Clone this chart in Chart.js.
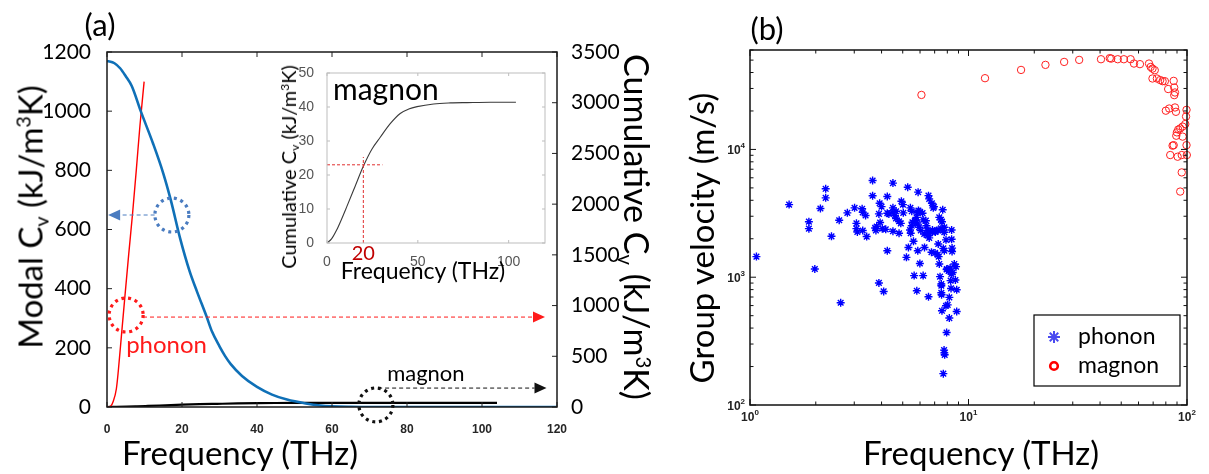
<!DOCTYPE html>
<html>
<head>
<meta charset="utf-8">
<script src="https://cdn.jsdelivr.net/npm/chart.js@4.4.1/dist/chart.umd.min.js"></script>
<style>
  body { margin: 0; background: #fff; }
  #wrap { position: relative; width: 1209px; height: 474px; overflow: hidden; font-family: Lato, sans-serif; }
  canvas { position: absolute; }
  .t { position: absolute; white-space: nowrap; color: #000; line-height: 1; z-index: 5; }
  .ctr { transform: translate(-50%, -50%); }
  .rot { transform: translate(-50%, -50%) rotate(-90deg); }
  .rotr { transform: translate(-50%, -50%) rotate(90deg); }
  sub { font-size: 60%; position: relative; top: 0.28em; vertical-align: baseline; }
  sup { font-size: 60%; position: relative; top: -0.6em; vertical-align: baseline; }
</style>
</head>
<body>
<div id="wrap">
  <canvas id="chartA" width="660" height="474" style="left:0;top:0"></canvas>
  <canvas id="chartInset" width="280" height="230" style="left:280px;top:55px"></canvas>
  <canvas id="chartB" width="549" height="474" style="left:660px;top:0"></canvas>

  <div class="t ctr" style="left:100px;top:24px;font-size:31px">(a)</div>
  <div class="t rot" style="left:30px;top:217px;font-size:33px">Modal C<sub>v</sub> (kJ/m<sup>3</sup>K)</div>
  <div class="t ctr" style="left:240px;top:452px;font-size:33px">Frequency (THz)</div>
  <div class="t rotr" style="left:637px;top:227px;font-size:34px">Cumulative C<sub>v</sub> (kJ/m<sup>3</sup>K)</div>

  <div class="t rot" style="left:288px;top:167px;font-size:20px">Cumulative C<sub>v</sub> (kJ/m<sup>3</sup>K)</div>
  <div class="t ctr" style="left:423px;top:270px;font-size:23px">Frequency (THz)</div>

  <div class="t ctr" style="left:767px;top:28px;font-size:31px">(b)</div>
  <div class="t rot" style="left:701px;top:238px;font-size:33px">Group velocity (m/s)</div>
  <div class="t ctr" style="left:981px;top:452px;font-size:33px">Frequency (THz)</div>
</div>

<script>
// ---- panel (a): modal Cv (left axis) ----
const modalFreq = [0, 2, 3.5, 5, 6.6, 9, 12.3, 15, 17, 19.5, 22, 24, 26.6, 28, 30, 31.5, 33, 36, 40, 44, 48, 53, 57, 60, 65, 70, 80, 100, 120];
const modalCv   = [1170, 1162, 1145, 1118, 1085, 1000, 890, 790, 700, 570, 460, 390, 304, 255, 205, 172, 145, 105, 68, 42, 25, 12, 5, 2.5, 0.8, 0, 0, 0, 0];

// ---- panel (a): cumulative Cv (right axis) ----
const phononCumFreq = [0, 1, 1.7, 2.5, 3, 3.9, 4.8, 5.8, 6.8, 7.8, 8.8, 9.9];
const phononCumCv   = [0, 10, 60, 180, 350, 726, 1100, 1510, 1900, 2330, 2780, 3208];

// magnon cumulative (also the inset curve)
const magnonCumFreq = [0, 2.5, 5.3, 8, 10.9, 15.5, 20.1, 24.7, 29.3, 34.8, 40.3, 45, 49.6, 58.7, 68, 77.2, 90, 104];
const magnonCumCv   = [0, 1.2, 3.8, 7, 10.7, 16.7, 22.7, 27.6, 31.1, 35.1, 38.1, 39.4, 40.1, 40.9, 41.2, 41.3, 41.4, 41.4];

const insetXTicks = [0, 50, 100];

// ---- panel (b): group velocity ----
const phononFreq = [1.07,1.51,1.86,1.86,1.98,2.10,2.22,2.22,2.36,2.56,2.60,2.79,3.01,3.07,3.07,3.10,3.26,3.28,3.38,3.28,
  3.42,3.64,3.64,3.74,3.77,3.80,3.89,3.92,4.00,3.89,3.94,4.03,4.18,4.09,4.25,4.25,4.25,4.32,4.51,4.61,
  4.66,4.51,4.66,4.51,4.51,4.81,4.81,4.90,4.93,5.01,5.03,5.20,5.27,5.31,5.42,5.50,5.40,5.44,5.50,5.54,
  5.60,5.64,5.70,5.78,5.84,5.90,5.99,6.16,6.20,5.80,5.88,5.86,5.99,6.20,6.29,6.38,6.42,6.49,6.56,6.61,
  6.56,6.56,6.61,6.80,6.90,6.84,7.05,7.25,6.77,7.22,7.30,7.35,7.27,7.35,7.48,7.56,7.41,7.51,7.51,7.51,
  7.53,7.56,7.62,7.67,7.75,7.67,7.75,7.73,7.75,7.78,7.67,7.94,7.89,7.89,8.03,7.97,8.11,8.24,8.17,8.17,
  8.28,8.32,8.35,8.47,8.37,8.37,8.41,8.41,8.61,8.77,8.71,8.83,8.83,
  5.74,5.84,5.94,6.05,6.27,6.49,6.84,7.14,7.48,7.75,7.03,6.95,7.94];
const phononVel = [1450,3700,2720,2400,1160,3450,4920,4180,2090,2790,631,3190,3490,2640,2400,2260,3430,3220,3040,2320,
  2080,5710,4340,2430,2320,2490,902,3790,3570,3130,2680,2400,2370,774,4280,1610,3170,3130,3490,3040,
  2880,3220,3280,5450,2290,2210,2740,2640,3930,3700,3190,1430,5060,1710,3490,3280,2340,2210,2530,2690,
  1910,1030,2770,2940,3220,3320,3250,3170,2810,783,4630,1610,1280,1030,1710,2770,2530,2320,2260,2030,
  703,4350,4100,3790,3490,2340,2260,2320,1570,1500,1450,1270,1820,2940,2810,2720,1010,885,857,755,
  729,546,3370,2320,2250,1680,1610,269,256,247,176,369,1960,598,608,1160,1120,1180,479,695,
  940,817,1060,1090,2340,1980,1690,1590,1270,1210,951,798,539,
  2770,2610,2460,2320,2180,2120,2250,2320,2410,2460,1550,3570,1150];

const magnonFreq = [6.09,11.9,17.4,22.5,27.4,32.1,40.4,44.3,45.0,48.2,51.4,55.2,57.2,60.9,67.0,68.2,69.5,71.2,69.5,72.8,
  75.4,77.3,79.2,86.9,82.0,87.4,88.1,87.4,80.0,82.9,88.1,89.0,99.5,99.0,98.2,95.5,93.1,91.2,89.9,89.3,
  95.5,86.9,85.9,99.5,83.8,90.6,94.6,99.8,94.6,93.1];
const magnonVel = [26700,36100,41900,45900,48400,50200,50800,51800,51400,50800,50800,50800,47000,46500,47000,44200,42900,41700,35900,35900,
  34900,34200,34200,34400,29700,30500,27900,26600,20100,20900,21300,19700,20400,18100,15800,15100,14600,14300,13600,12800,
  12600,10800,10700,10800,9040,8770,9040,9040,6610,4680];

// annotations in panel (a), left-axis units
const circles = [
  { x: 17.3, y: 649, color: '#4a7cc0' },
  { x: 5.1, y: 311, color: '#ff1a1a' },
  { x: 71.7, y: 7, color: '#111111' }
];
const arrows = [
  { from: 12.7, to: 0.3, y: 649, color: '#4a7cc0' },
  { from: 9.6, to: 116.8, y: 304, color: '#ff1a1a' },
  { from: 72.3, to: 117.2, y: 64, color: '#111111' }
];

const toXY = (xs, ys) => xs.map((x, i) => ({ x: x, y: ys[i] }));
const plain = v => String(v); // no thousands separators

function line(ctx, x0, y0, x1, y1) {
  ctx.beginPath(); ctx.moveTo(x0, y0); ctx.lineTo(x1, y1); ctx.stroke();
}

const panelA = {
  id: 'panelA',
  afterDatasetsDraw(chart) {
    const { ctx, chartArea: a, scales } = chart;
    const x = scales.x, y = scales.y, y2 = scales.y2;
    ctx.save();
    ctx.strokeStyle = '#222'; ctx.lineWidth = 1;
    x.ticks.forEach(t => {
      const p = x.getPixelForValue(t.value);
      line(ctx, p, a.bottom, p, a.bottom - 5);
      line(ctx, p, a.top, p, a.top + 5);
    });
    y.ticks.forEach(t => { const p = y.getPixelForValue(t.value); line(ctx, a.left, p, a.left + 5, p); });
    y2.ticks.forEach(t => { const p = y2.getPixelForValue(t.value); line(ctx, a.right, p, a.right - 5, p); });
    ctx.lineWidth = 1.5; ctx.strokeStyle = '#1a1a1a';
    ctx.strokeRect(a.left, a.top, a.right - a.left, a.bottom - a.top);

    // dotted circles
    circles.forEach(c => {
      ctx.setLineDash([3, 3.8]); ctx.lineWidth = 3.2; ctx.strokeStyle = c.color;
      ctx.beginPath();
      ctx.arc(x.getPixelForValue(c.x), y.getPixelForValue(c.y), 17, 0, Math.PI * 2);
      ctx.stroke();
    });
    // dashed arrows
    arrows.forEach(ar => {
      const x0 = x.getPixelForValue(ar.from), x1 = x.getPixelForValue(ar.to), py = y.getPixelForValue(ar.y);
      const dir = Math.sign(x1 - x0), hl = 12;
      ctx.strokeStyle = ar.color; ctx.fillStyle = ar.color;
      ctx.setLineDash([4, 3]); ctx.lineWidth = 1;
      line(ctx, x0, py, x1 - dir * hl, py);
      ctx.setLineDash([]);
      ctx.beginPath();
      ctx.moveTo(x1, py); ctx.lineTo(x1 - dir * hl, py - 5.5); ctx.lineTo(x1 - dir * hl, py + 5.5);
      ctx.closePath(); ctx.fill();
    });
    // labels
    ctx.textBaseline = 'middle'; ctx.textAlign = 'left';
    ctx.font = '24px Lato'; ctx.fillStyle = '#ff1a1a';
    ctx.fillText('phonon', x.getPixelForValue(5.1), y.getPixelForValue(210));
    ctx.font = '22px Lato'; ctx.fillStyle = '#000';
    ctx.fillText('magnon', x.getPixelForValue(74.7), y.getPixelForValue(112));
    ctx.restore();
  }
};

new Chart(document.getElementById('chartA'), {
  type: 'line',
  data: {
    datasets: [
      { data: toXY(modalFreq, modalCv), yAxisID: 'y', borderColor: '#0f70b7', borderWidth: 2.6, pointRadius: 0, cubicInterpolationMode: 'monotone' },
      { data: toXY(phononCumFreq, phononCumCv), yAxisID: 'y2', borderColor: '#ff0000', borderWidth: 1.4, pointRadius: 0, cubicInterpolationMode: 'monotone' },
      { data: toXY(magnonCumFreq, magnonCumCv), yAxisID: 'y2', borderColor: '#000', borderWidth: 2.2, pointRadius: 0, cubicInterpolationMode: 'monotone' }
    ]
  },
  options: {
    responsive: false, animation: false, devicePixelRatio: 1,
    layout: { padding: { top: 52, left: 0, right: 0, bottom: 0 } },
    plugins: { legend: { display: false }, tooltip: { enabled: false } },
    scales: {
      x: {
        type: 'linear', min: 0, max: 120,
        ticks: { stepSize: 20, padding: 7, maxRotation: 0, color: '#262626', callback: plain, font: { family: 'Liberation Sans', size: 12, weight: 'bold' } },
        grid: { display: false }, border: { display: false },
        afterFit: s => { s.height = 67; }
      },
      y: {
        position: 'left', min: 0, max: 1200,
        ticks: { stepSize: 200, padding: 8, color: '#000', callback: plain, font: { family: 'Lato', size: 21 } },
        grid: { display: false }, border: { display: false },
        afterFit: s => { s.width = 107; }
      },
      y2: {
        position: 'right', min: 0, max: 3500,
        ticks: { stepSize: 500, padding: 6, color: '#000', callback: plain, font: { family: 'Lato', size: 21 } },
        grid: { display: false }, border: { display: false },
        afterFit: s => { s.width = 103; }
      }
    }
  },
  plugins: [panelA]
});

// ---- inset ----
const insetDeco = {
  id: 'insetDeco',
  beforeDatasetsDraw(chart) {
    const { ctx, chartArea: a } = chart;
    ctx.save(); ctx.fillStyle = '#fff';
    ctx.fillRect(a.left, a.top, a.right - a.left, a.bottom - a.top);
    ctx.restore();
  },
  afterDatasetsDraw(chart) {
    const { ctx, chartArea: a, scales: { x, y } } = chart;
    ctx.save();
    ctx.strokeStyle = '#e03030'; ctx.lineWidth = 1; ctx.setLineDash([3, 2]);
    line(ctx, x.getPixelForValue(0), y.getPixelForValue(23), x.getPixelForValue(30.5), y.getPixelForValue(23));
    line(ctx, x.getPixelForValue(20), y.getPixelForValue(0), x.getPixelForValue(20), y.getPixelForValue(25.3));
    ctx.setLineDash([]);
    ctx.strokeStyle = '#bdbdbd';
    x.ticks.forEach(t => {
      const p = x.getPixelForValue(t.value);
      line(ctx, p, a.bottom, p, a.bottom - 3); line(ctx, p, a.top, p, a.top + 3);
    });
    y.ticks.forEach(t => {
      const p = y.getPixelForValue(t.value);
      line(ctx, a.left, p, a.left + 3, p); line(ctx, a.right, p, a.right - 3, p);
    });
    ctx.strokeRect(a.left, a.top, a.right - a.left, a.bottom - a.top);
    ctx.fillStyle = '#c00000'; ctx.font = '20px Lato'; ctx.textAlign = 'center'; ctx.textBaseline = 'middle';
    ctx.fillText('20', x.getPixelForValue(20), a.bottom + 11);
    ctx.fillStyle = '#000'; ctx.font = '30px Lato'; ctx.textAlign = 'left';
    ctx.fillText('magnon', a.left + 6, a.top + 17);
    ctx.restore();
  }
};

new Chart(document.getElementById('chartInset'), {
  type: 'line',
  data: {
    datasets: [
      { data: toXY(magnonCumFreq, magnonCumCv), borderColor: '#3a3a3a', borderWidth: 1.1, pointRadius: 0, cubicInterpolationMode: 'monotone' }
    ]
  },
  options: {
    responsive: false, animation: false, devicePixelRatio: 1,
    layout: { padding: { top: 18, right: 15, left: 0, bottom: 0 } },
    plugins: { legend: { display: false }, tooltip: { enabled: false } },
    scales: {
      x: {
        type: 'linear', min: 0, max: 120,
        afterBuildTicks: s => { s.ticks = insetXTicks.map(v => ({ value: v })); },
        ticks: { autoSkip: false, padding: 3, maxRotation: 0, color: '#555', callback: plain, font: { family: 'Liberation Sans', size: 14 } },
        grid: { display: false }, border: { display: false },
        afterFit: s => { s.height = 42; }
      },
      y: {
        min: 0, max: 50,
        ticks: { stepSize: 10, padding: 5, color: '#555', callback: plain, font: { family: 'Liberation Sans', size: 14 } },
        grid: { display: false }, border: { display: false },
        afterFit: s => { s.width = 47; }
      }
    }
  },
  plugins: [insetDeco]
});

// ---- panel (b) ----
function logTicks(scale) {
  const t = [];
  for (let e = 0; e <= 4; e++) {
    for (let m = 1; m < 10; m++) {
      const v = m * Math.pow(10, e);
      if (v >= scale.min - 1e-9 && v <= scale.max + 1e-9) t.push({ value: v });
    }
  }
  scale.ticks = t;
}
const isPow10 = v => Math.abs(Math.log10(v) - Math.round(Math.log10(v))) < 1e-9;

function powLabel(ctx, exp, x, yb, align) {
  ctx.font = 'bold 12px "Liberation Sans"';
  const wb = ctx.measureText('10').width;
  ctx.font = 'bold 8px "Liberation Sans"';
  const we = ctx.measureText(String(exp)).width;
  const total = wb + we;
  const x0 = align === 'center' ? x - total / 2 : x - total;
  ctx.font = 'bold 12px "Liberation Sans"';
  ctx.fillText('10', x0, yb);
  ctx.font = 'bold 8px "Liberation Sans"';
  ctx.fillText(String(exp), x0 + wb, yb - 6);
}

const panelB = {
  id: 'panelB',
  afterDatasetsDraw(chart) {
    const { ctx, chartArea: a, scales: { x, y } } = chart;
    ctx.save();
    ctx.strokeStyle = '#111'; ctx.lineWidth = 1;
    x.ticks.forEach(t => {
      const p = x.getPixelForValue(t.value), len = isPow10(t.value) ? 6 : 3.5;
      line(ctx, p, a.bottom, p, a.bottom - len); line(ctx, p, a.top, p, a.top + len);
    });
    y.ticks.forEach(t => {
      const p = y.getPixelForValue(t.value), len = isPow10(t.value) ? 6 : 3.5;
      line(ctx, a.left, p, a.left + len, p); line(ctx, a.right, p, a.right - len, p);
    });
    ctx.lineWidth = 1.5;
    ctx.strokeRect(a.left, a.top, a.right - a.left, a.bottom - a.top);

    ctx.fillStyle = '#222'; ctx.textAlign = 'left'; ctx.textBaseline = 'alphabetic';
    x.ticks.filter(t => isPow10(t.value)).forEach(t => {
      powLabel(ctx, Math.round(Math.log10(t.value)), x.getPixelForValue(t.value), a.bottom + 16, 'center');
    });
    y.ticks.filter(t => isPow10(t.value)).forEach(t => {
      powLabel(ctx, Math.round(Math.log10(t.value)), a.left - 5, y.getPixelForValue(t.value) + 5, 'right');
    });

    // legend box
    const bw = 146, bh = 71, bx = a.right - 7 - bw, by = a.bottom - 19 - bh;
    ctx.fillStyle = '#fff'; ctx.fillRect(bx, by, bw, bh);
    ctx.strokeStyle = '#000'; ctx.lineWidth = 1.2; ctx.strokeRect(bx, by, bw, bh);
    const mx = bx + 20, r1 = by + 22, r2 = by + 51;
    ctx.strokeStyle = '#4a4af0'; ctx.lineWidth = 2;
    for (let k = 0; k < 4; k++) {
      const ang = k * Math.PI / 4, dx = Math.cos(ang) * 6, dy = Math.sin(ang) * 6;
      line(ctx, mx - dx, r1 - dy, mx + dx, r1 + dy);
    }
    ctx.strokeStyle = '#ff0000'; ctx.lineWidth = 2.6;
    ctx.beginPath(); ctx.arc(mx, r2, 3.8, 0, Math.PI * 2); ctx.stroke();
    ctx.fillStyle = '#000'; ctx.font = '23px Lato'; ctx.textBaseline = 'middle';
    ctx.fillText('phonon', bx + 44, r1);
    ctx.fillText('magnon', bx + 44, r2);
    ctx.restore();
  }
};

new Chart(document.getElementById('chartB'), {
  type: 'scatter',
  data: {
    datasets: [
      { data: toXY(phononFreq, phononVel), pointStyle: 'star', pointRadius: 4, borderColor: '#0000ff', backgroundColor: '#0000ff', borderWidth: 1.4, clip: false },
      { data: toXY(magnonFreq, magnonVel), pointStyle: 'circle', pointRadius: 3.7, borderColor: '#ff2020', backgroundColor: 'rgba(0,0,0,0)', borderWidth: 1, clip: false }
    ]
  },
  options: {
    responsive: false, animation: false, devicePixelRatio: 1,
    layout: { padding: { top: 50, right: 22, left: 0, bottom: 0 } },
    plugins: { legend: { display: false }, tooltip: { enabled: false } },
    scales: {
      x: {
        type: 'logarithmic', min: 1, max: 100,
        afterBuildTicks: logTicks,
        ticks: { display: false, autoSkip: false },
        grid: { display: false }, border: { display: false },
        afterFit: s => { s.height = 69; }
      },
      y: {
        type: 'logarithmic', min: 100, max: 60000,
        afterBuildTicks: logTicks,
        ticks: { display: false, autoSkip: false },
        grid: { display: false }, border: { display: false },
        afterFit: s => { s.width = 90; }
      }
    }
  },
  plugins: [panelB]
});
</script>
</body>
</html>
